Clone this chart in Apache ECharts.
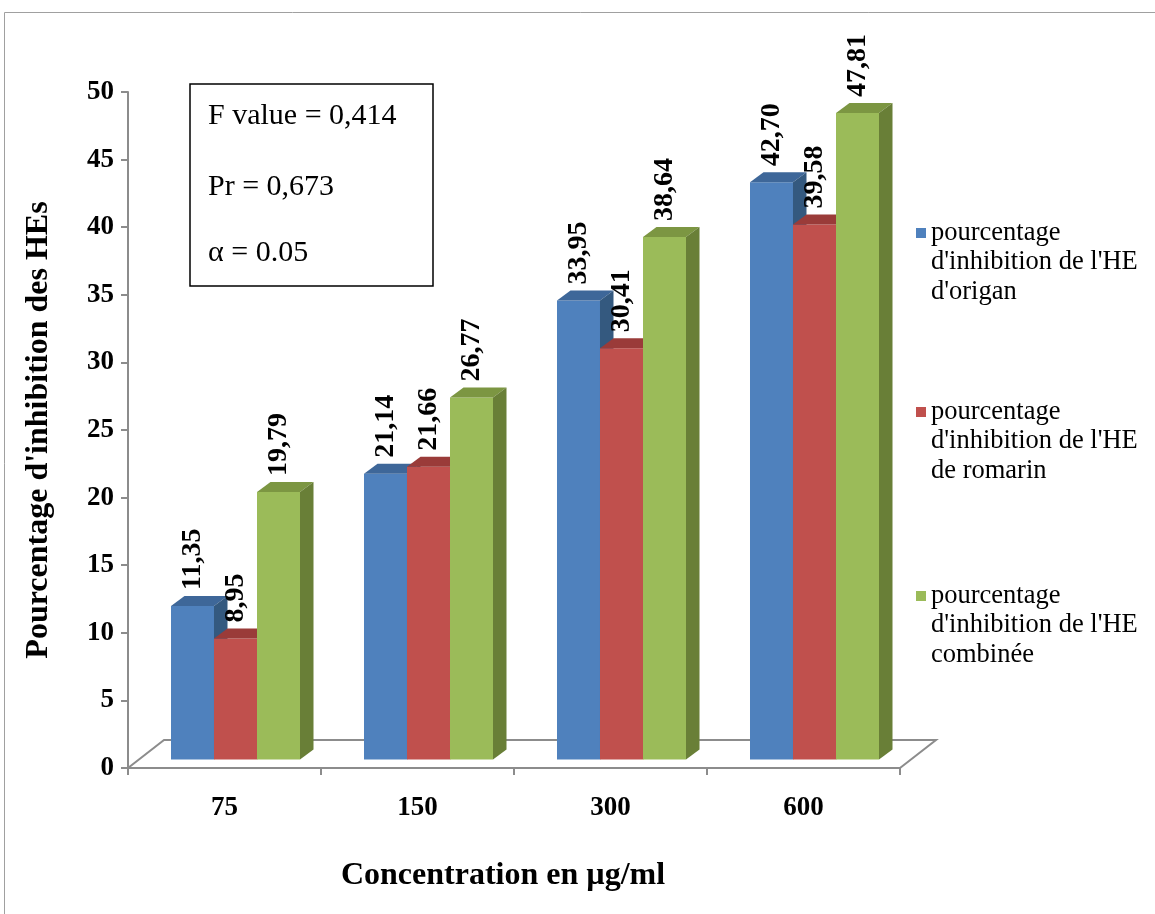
<!DOCTYPE html>
<html>
<head>
<meta charset="utf-8">
<title>Pourcentage d'inhibition des HEs</title>
<script src="https://cdn.jsdelivr.net/npm/echarts@6/dist/echarts.min.js"></script>
<style>
  html, body { margin: 0; padding: 0; background: #ffffff; }
  #chart { width: 1155px; height: 914px; }
</style>
</head>
<body>
<div id="chart"></div>
<script>
// Concentrations (µg/ml) on the category axis
const categories = ['75', '150', '300', '600'];
// Inhibition percentages for each essential oil
const origan = [11.35, 21.14, 33.95, 42.70];
const romarin = [8.95, 21.66, 30.41, 39.58];
const combinee = [19.79, 26.77, 38.64, 47.81];
const seriesNames = [
  "pourcentage\nd'inhibition de l'HE\nd'origan",
  "pourcentage\nd'inhibition de l'HE\nde romarin",
  "pourcentage\nd'inhibition de l'HE\ncombinée"
];
// Statistics shown in the box
const statLines = ['F value = 0,414', 'Pr = 0,673', 'α = 0.05'];
const yTicks = { min: 0, max: 50, interval: 5 };

const FONT = '"Liberation Serif", "Times New Roman", serif';
// Face colours: front, top, side
const faces = [
  { front: '#4F81BD', top: '#3E6799', side: '#34597F' },
  { front: '#C0504D', top: '#9A3B39', side: '#8A3431' },
  { front: '#9BBB59', top: '#7C9642', side: '#697F37' }
];
// Pseudo-3D geometry (pixels)
const FLOOR = [36, -28];      // floor depth vector
const OFFSET = [11, -8.5];    // bar front plane offset from axis plane
const DEPTH = [13.5, -10];    // bar thickness
const BAR_RATIO = 0.2228;     // bar width / category band width

const chart = echarts.init(document.getElementById('chart'), null, { renderer: 'canvas' });

function fmt(v) { return v.toFixed(2).replace('.', ','); }

function barSeries(values, s) {
  return {
    type: 'custom',
    name: seriesNames[s],
    data: values.map((v, i) => [i, v]),
    z: 3 + s,
    renderItem: function (params, api) {
      const idx = api.value(0);
      const val = api.value(1);
      const p = api.coord([idx, val]);
      const base = api.coord([idx, 0]);
      const bw = api.size([1, 0])[0];
      const w = bw * BAR_RATIO;
      const x0 = p[0] + (s - 1.5) * w + OFFSET[0];
      const yTop = p[1] + OFFSET[1];
      const yBot = base[1] + OFFSET[1];
      const dx = DEPTH[0], dy = DEPTH[1];
      const c = faces[s];
      return {
        type: 'group',
        children: [
          { type: 'rect', shape: { x: x0, y: yTop, width: w, height: yBot - yTop },
            style: { fill: c.front } },
          { type: 'polygon', shape: { points: [[x0, yTop], [x0 + dx, yTop + dy], [x0 + w + dx, yTop + dy], [x0 + w, yTop]] },
            style: { fill: c.top } },
          { type: 'polygon', shape: { points: [[x0 + w, yTop], [x0 + w + dx, yTop + dy], [x0 + w + dx, yBot + dy], [x0 + w, yBot]] },
            style: { fill: c.side } },
          { type: 'text', x: x0 + w / 2, y: yTop - 16, rotation: Math.PI / 2,
            style: { text: fmt(val), x: 0, y: 0, align: 'left', verticalAlign: 'middle',
              font: 'bold 28px ' + FONT, fill: '#000000' } }
        ]
      };
    }
  };
}

// Floor parallelogram under the bars
const floorSeries = {
  type: 'custom',
  data: [[0, 0]],
  z: 1,
  silent: true,
  renderItem: function (params, api) {
    const bw = api.size([1, 0])[0];
    const first = api.coord([0, 0]);
    const last = api.coord([categories.length - 1, 0]);
    const xl = first[0] - bw / 2, xr = last[0] + bw / 2, y = first[1];
    const fx = FLOOR[0], fy = FLOOR[1];
    return {
      type: 'polyline',
      shape: { points: [[xl, y], [xl + fx, y + fy], [xr + fx, y + fy], [xr, y]] },
      style: { stroke: '#8C8C8C', lineWidth: 2, fill: null }
    };
  }
};

// Legend drawn as text blocks with the colour key on the first line
const legendTops = [218, 397, 581];
const legendGraphics = [];
seriesNames.forEach((name, s) => {
  legendGraphics.push({ type: 'rect', shape: { x: 916, y: legendTops[s] + 10, width: 10, height: 10 },
    style: { fill: faces[s].front } });
  legendGraphics.push({ type: 'text', x: 931, y: legendTops[s],
    style: { text: name, font: '26.5px ' + FONT, fill: '#000000', lineHeight: 29.5,
      align: 'left', verticalAlign: 'top' } });
});

const statCenters = [116, 187, 253];
const statGraphics = statLines.map((t, i) => ({
  type: 'text', x: 208, y: statCenters[i],
  style: { text: t, font: '30px ' + FONT, fill: '#000000', align: 'left', verticalAlign: 'middle' }
}));

const option = {
  backgroundColor: '#ffffff',
  animation: false,
  grid: { left: 128, top: 92, width: 772, height: 676, containLabel: false },
  xAxis: {
    type: 'category',
    data: categories,
    name: 'Concentration en µg/ml',
    nameLocation: 'middle',
    nameGap: 92,
    nameTextStyle: { fontFamily: FONT, fontWeight: 'bold', fontSize: 32, color: '#000000',
      padding: [0, 22, 0, 0] },
    axisLine: { lineStyle: { color: '#8C8C8C', width: 2 } },
    axisTick: { show: true, length: 7, alignWithLabel: false, lineStyle: { color: '#8C8C8C', width: 2 } },
    axisLabel: { margin: 27, fontFamily: FONT, fontWeight: 'bold', fontSize: 27, color: '#000000' },
    splitLine: { show: false }
  },
  yAxis: {
    type: 'value',
    min: yTicks.min, max: yTicks.max, interval: yTicks.interval,
    name: "Pourcentage d'inhibition des HEs",
    nameLocation: 'middle',
    nameRotate: 90,
    nameGap: 73,
    nameTextStyle: { fontFamily: FONT, fontWeight: 'bold', fontSize: 32, color: '#000000' },
    axisLine: { show: true, lineStyle: { color: '#8C8C8C', width: 2 } },
    axisTick: { show: true, length: 7, lineStyle: { color: '#8C8C8C', width: 2 } },
    axisLabel: { margin: 14, fontFamily: FONT, fontWeight: 'bold', fontSize: 27, color: '#000000' },
    splitLine: { show: false }
  },
  graphic: [
    { type: 'rect', shape: { x: 4.5, y: 12.5, width: 1200, height: 960 },
      style: { fill: null, stroke: '#A0A0A0', lineWidth: 1 }, silent: true },
    { type: 'rect', shape: { x: 190, y: 84, width: 243, height: 202 },
      style: { fill: '#ffffff', stroke: '#000000', lineWidth: 1.5 } }
  ].concat(statGraphics, legendGraphics),
  series: [floorSeries, barSeries(origan, 0), barSeries(romarin, 1), barSeries(combinee, 2)]
};

chart.setOption(option);
</script>
</body>
</html>
